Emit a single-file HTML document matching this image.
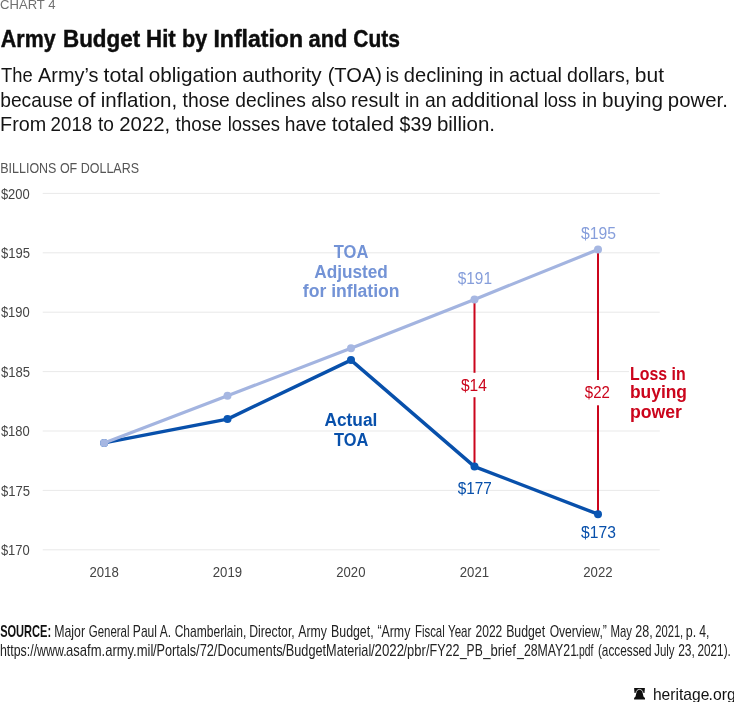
<!DOCTYPE html>
<html lang="en"><head><meta charset="utf-8"><title>Army Budget Hit by Inflation and Cuts</title>
<style>html,body{margin:0;padding:0;background:#fff}svg{display:block}text{font-family:"Liberation Sans",sans-serif}</style></head><body>
<svg width="734" height="702" viewBox="0 0 734 702">
<rect width="734" height="702" fill="#fff"/>
<rect x="42.7" y="192.90" width="617.1" height="1" fill="#e9e9e9"/>
<rect x="42.7" y="252.30" width="617.1" height="1" fill="#e9e9e9"/>
<rect x="42.7" y="311.70" width="617.1" height="1" fill="#e9e9e9"/>
<rect x="42.7" y="371.10" width="617.1" height="1" fill="#e9e9e9"/>
<rect x="42.7" y="430.50" width="617.1" height="1" fill="#e9e9e9"/>
<rect x="42.7" y="489.90" width="617.1" height="1" fill="#e9e9e9"/>
<rect x="42.7" y="549.30" width="617.1" height="1" fill="#e9e9e9"/>
<rect x="473.5" y="299.4" width="2" height="167.3" fill="#cb051c"/>
<rect x="597" y="249.7" width="2" height="264.4" fill="#cb051c"/>
<rect x="458" y="372.8" width="32" height="24.4" fill="#fff"/>
<rect x="582" y="380" width="30" height="25.3" fill="#fff"/>
<rect x="629" y="366" width="31" height="10" fill="#fff"/>
<polyline points="104.1,442.9 227.5,419.1 351,360.1 474.5,466.6 598,514.2" fill="none" stroke="#0850ab" stroke-width="3.4" stroke-linejoin="round"/>
<circle cx="104.1" cy="442.9" r="4" fill="#0a56b3"/>
<circle cx="227.5" cy="419.1" r="4" fill="#0a56b3"/>
<circle cx="351" cy="360.1" r="4" fill="#0a56b3"/>
<circle cx="474.5" cy="466.6" r="4" fill="#0a56b3"/>
<circle cx="598" cy="514.2" r="4" fill="#0a56b3"/>
<polyline points="104.1,442.9 227.5,395.8 351,348.3 474.5,299.4 598,249.6" fill="none" stroke="#a3b4e0" stroke-width="3.2" stroke-linejoin="round"/>
<circle cx="104.1" cy="442.9" r="4" fill="#a6b7e2"/>
<circle cx="227.5" cy="395.8" r="4" fill="#a6b7e2"/>
<circle cx="351" cy="348.3" r="4" fill="#a6b7e2"/>
<circle cx="474.5" cy="299.4" r="4" fill="#a6b7e2"/>
<circle cx="598" cy="249.6" r="4" fill="#a6b7e2"/>
<text x="0.09" y="8.6" font-size="12.8" fill="#707070" textLength="55.43" lengthAdjust="spacingAndGlyphs">CHART 4</text>
<text y="46.6" font-size="24.3" fill="#0d0d0d" font-weight="bold" stroke="#0d0d0d" stroke-width="0.45"><tspan x="0.87" textLength="54.80" lengthAdjust="spacingAndGlyphs">Army</tspan> <tspan x="63.00" textLength="77.11" lengthAdjust="spacingAndGlyphs">Budget</tspan> <tspan x="146.11" textLength="29.60" lengthAdjust="spacingAndGlyphs">Hit</tspan> <tspan x="181.95" textLength="25.21" lengthAdjust="spacingAndGlyphs">by</tspan> <tspan x="213.46" textLength="89.55" lengthAdjust="spacingAndGlyphs">Inflation</tspan> <tspan x="308.46" textLength="38.94" lengthAdjust="spacingAndGlyphs">and</tspan> <tspan x="353.34" textLength="46.61" lengthAdjust="spacingAndGlyphs">Cuts</tspan></text>
<text y="82.0" font-size="20.2" fill="#141414"><tspan x="1.11" textLength="31.63" lengthAdjust="spacingAndGlyphs">The</tspan> <tspan x="38.10" textLength="60.32" lengthAdjust="spacingAndGlyphs">Army’s</tspan> <tspan x="103.60" textLength="40.31" lengthAdjust="spacingAndGlyphs">total</tspan> <tspan x="148.75" textLength="88.51" lengthAdjust="spacingAndGlyphs">obligation</tspan> <tspan x="242.25" textLength="79.35" lengthAdjust="spacingAndGlyphs">authority</tspan> <tspan x="327.66" textLength="54.38" lengthAdjust="spacingAndGlyphs">(TOA)</tspan> <tspan x="385.66" textLength="13.22" lengthAdjust="spacingAndGlyphs">is</tspan> <tspan x="403.87" textLength="79.46" lengthAdjust="spacingAndGlyphs">declining</tspan> <tspan x="488.69" textLength="15.10" lengthAdjust="spacingAndGlyphs">in</tspan> <tspan x="508.88" textLength="53.03" lengthAdjust="spacingAndGlyphs">actual</tspan> <tspan x="567.09" textLength="63.18" lengthAdjust="spacingAndGlyphs">dollars,</tspan> <tspan x="634.79" textLength="29.24" lengthAdjust="spacingAndGlyphs">but</tspan></text>
<text y="106.6" font-size="20.2" fill="#141414"><tspan x="0.20" textLength="72.78" lengthAdjust="spacingAndGlyphs">because</tspan> <tspan x="77.63" textLength="17.90" lengthAdjust="spacingAndGlyphs">of</tspan> <tspan x="100.82" textLength="76.31" lengthAdjust="spacingAndGlyphs">inflation,</tspan> <tspan x="182.60" textLength="47.28" lengthAdjust="spacingAndGlyphs">those</tspan> <tspan x="235.30" textLength="70.60" lengthAdjust="spacingAndGlyphs">declines</tspan> <tspan x="311.20" textLength="35.18" lengthAdjust="spacingAndGlyphs">also</tspan> <tspan x="351.07" textLength="48.06" lengthAdjust="spacingAndGlyphs">result</tspan> <tspan x="404.93" textLength="14.51" lengthAdjust="spacingAndGlyphs">in</tspan> <tspan x="425.00" textLength="21.49" lengthAdjust="spacingAndGlyphs">an</tspan> <tspan x="451.36" textLength="87.49" lengthAdjust="spacingAndGlyphs">additional</tspan> <tspan x="543.75" textLength="32.73" lengthAdjust="spacingAndGlyphs">loss</tspan> <tspan x="581.98" textLength="15.22" lengthAdjust="spacingAndGlyphs">in</tspan> <tspan x="602.00" textLength="61.06" lengthAdjust="spacingAndGlyphs">buying</tspan> <tspan x="667.83" textLength="60.01" lengthAdjust="spacingAndGlyphs">power.</tspan></text>
<text y="130.8" font-size="20.2" fill="#141414"><tspan x="0.05" textLength="46.17" lengthAdjust="spacingAndGlyphs">From</tspan> <tspan x="50.62" textLength="41.64" lengthAdjust="spacingAndGlyphs">2018</tspan> <tspan x="98.00" textLength="15.98" lengthAdjust="spacingAndGlyphs">to</tspan> <tspan x="119.25" textLength="50.98" lengthAdjust="spacingAndGlyphs">2022,</tspan> <tspan x="175.50" textLength="46.27" lengthAdjust="spacingAndGlyphs">those</tspan> <tspan x="227.75" textLength="52.33" lengthAdjust="spacingAndGlyphs">losses</tspan> <tspan x="284.70" textLength="41.68" lengthAdjust="spacingAndGlyphs">have</tspan> <tspan x="331.70" textLength="62.37" lengthAdjust="spacingAndGlyphs">totaled</tspan> <tspan x="399.60" textLength="32.49" lengthAdjust="spacingAndGlyphs">$39</tspan> <tspan x="436.92" textLength="58.13" lengthAdjust="spacingAndGlyphs">billion.</tspan></text>
<text x="0.22" y="172.7" font-size="14.3" fill="#555" textLength="138.80" lengthAdjust="spacingAndGlyphs">BILLIONS OF DOLLARS</text>
<text x="0.90" y="198.6" font-size="14" fill="#444" textLength="28.82" lengthAdjust="spacingAndGlyphs">$200</text>
<text x="0.90" y="258.0" font-size="14" fill="#444" textLength="29.03" lengthAdjust="spacingAndGlyphs">$195</text>
<text x="0.90" y="317.4" font-size="14" fill="#444" textLength="28.82" lengthAdjust="spacingAndGlyphs">$190</text>
<text x="0.90" y="376.8" font-size="14" fill="#444" textLength="29.03" lengthAdjust="spacingAndGlyphs">$185</text>
<text x="0.90" y="436.2" font-size="14" fill="#444" textLength="28.82" lengthAdjust="spacingAndGlyphs">$180</text>
<text x="0.90" y="495.6" font-size="14" fill="#444" textLength="29.03" lengthAdjust="spacingAndGlyphs">$175</text>
<text x="0.90" y="555.0" font-size="14" fill="#444" textLength="28.82" lengthAdjust="spacingAndGlyphs">$170</text>
<text x="89.38" y="576.9" font-size="14.7" fill="#444" textLength="29.35" lengthAdjust="spacingAndGlyphs">2018</text>
<text x="212.78" y="576.9" font-size="14.7" fill="#444" textLength="29.35" lengthAdjust="spacingAndGlyphs">2019</text>
<text x="336.29" y="576.9" font-size="14.7" fill="#444" textLength="29.14" lengthAdjust="spacingAndGlyphs">2020</text>
<text x="459.78" y="576.9" font-size="14.7" fill="#444" textLength="29.35" lengthAdjust="spacingAndGlyphs">2021</text>
<text x="583.28" y="576.9" font-size="14.7" fill="#444" textLength="29.35" lengthAdjust="spacingAndGlyphs">2022</text>
<text x="333.80" y="258.0" font-size="18.0" fill="#7393d6" font-weight="bold" textLength="34.61" lengthAdjust="spacingAndGlyphs">TOA</text>
<text x="314.23" y="277.9" font-size="18.0" fill="#7393d6" font-weight="bold" textLength="73.67" lengthAdjust="spacingAndGlyphs">Adjusted</text>
<text x="302.83" y="296.7" font-size="18.0" fill="#7393d6" font-weight="bold" textLength="96.73" lengthAdjust="spacingAndGlyphs">for inflation</text>
<text x="324.53" y="426.1" font-size="18.0" fill="#0850ab" font-weight="bold" textLength="52.79" lengthAdjust="spacingAndGlyphs">Actual</text>
<text x="334.10" y="445.8" font-size="18.0" fill="#0850ab" font-weight="bold" textLength="34.31" lengthAdjust="spacingAndGlyphs">TOA</text>
<text x="457.70" y="283.8" font-size="16.6" fill="#869edb" textLength="34.33" lengthAdjust="spacingAndGlyphs">$191</text>
<text x="580.90" y="239.3" font-size="16.6" fill="#869edb" textLength="35.04" lengthAdjust="spacingAndGlyphs">$195</text>
<text x="457.70" y="493.6" font-size="16.6" fill="#0850ab" textLength="34.12" lengthAdjust="spacingAndGlyphs">$177</text>
<text x="581.10" y="538.0" font-size="16.6" fill="#0850ab" textLength="34.73" lengthAdjust="spacingAndGlyphs">$173</text>
<text x="460.90" y="390.5" font-size="16.6" fill="#cb051c" textLength="25.89" lengthAdjust="spacingAndGlyphs">$14</text>
<text x="584.80" y="397.7" font-size="16.6" fill="#cb051c" textLength="25.01" lengthAdjust="spacingAndGlyphs">$22</text>
<text x="630.01" y="379.7" font-size="18.0" fill="#cb051c" font-weight="bold" textLength="55.66" lengthAdjust="spacingAndGlyphs">Loss in</text>
<text x="629.91" y="398.2" font-size="18.0" fill="#cb051c" font-weight="bold" textLength="57.10" lengthAdjust="spacingAndGlyphs">buying</text>
<text x="629.90" y="417.6" font-size="18.0" fill="#cb051c" font-weight="bold" textLength="52.06" lengthAdjust="spacingAndGlyphs">power</text>
<text x="0.13" y="636.9" font-size="15.7" fill="#111" font-weight="bold" textLength="50.99" lengthAdjust="spacingAndGlyphs">SOURCE:</text>
<text y="636.9" font-size="15.7" fill="#222"><tspan x="54.24" textLength="30.82" lengthAdjust="spacingAndGlyphs">Major</tspan> <tspan x="88.76" textLength="40.79" lengthAdjust="spacingAndGlyphs">General</tspan> <tspan x="132.86" textLength="24.14" lengthAdjust="spacingAndGlyphs">Paul</tspan> <tspan x="159.80" textLength="11.28" lengthAdjust="spacingAndGlyphs">A.</tspan> <tspan x="174.64" textLength="71.67" lengthAdjust="spacingAndGlyphs">Chamberlain,</tspan> <tspan x="249.14" textLength="45.57" lengthAdjust="spacingAndGlyphs">Director,</tspan> <tspan x="298.30" textLength="28.60" lengthAdjust="spacingAndGlyphs">Army</tspan> <tspan x="331.03" textLength="42.59" lengthAdjust="spacingAndGlyphs">Budget,</tspan> <tspan x="377.41" textLength="32.89" lengthAdjust="spacingAndGlyphs">“Army</tspan> <tspan x="414.91" textLength="29.85" lengthAdjust="spacingAndGlyphs">Fiscal</tspan> <tspan x="448.02" textLength="23.34" lengthAdjust="spacingAndGlyphs">Year</tspan> <tspan x="475.54" textLength="26.75" lengthAdjust="spacingAndGlyphs">2022</tspan> <tspan x="506.14" textLength="38.92" lengthAdjust="spacingAndGlyphs">Budget</tspan> <tspan x="549.63" textLength="57.21" lengthAdjust="spacingAndGlyphs">Overview,”</tspan> <tspan x="610.41" textLength="21.59" lengthAdjust="spacingAndGlyphs">May</tspan> <tspan x="635.21" textLength="17.42" lengthAdjust="spacingAndGlyphs">28,</tspan> <tspan x="655.28" textLength="27.96" lengthAdjust="spacingAndGlyphs">2021,</tspan> <tspan x="685.72" textLength="10.41" lengthAdjust="spacingAndGlyphs">p.</tspan> <tspan x="699.21" textLength="10.21" lengthAdjust="spacingAndGlyphs">4,</tspan></text>
<text y="655.8" font-size="15.7" fill="#222"><tspan x="-0.07" textLength="66.69" lengthAdjust="spacingAndGlyphs">https://www.</tspan><tspan x="66.09" textLength="87.26" lengthAdjust="spacingAndGlyphs">asafm.army.mil</tspan><tspan x="153.00" textLength="43.10" lengthAdjust="spacingAndGlyphs">/Portals</tspan><tspan x="196.10" textLength="17.82" lengthAdjust="spacingAndGlyphs">/72</tspan><tspan x="213.80" textLength="68.90" lengthAdjust="spacingAndGlyphs">/Documents</tspan><tspan x="282.30" textLength="88.94" lengthAdjust="spacingAndGlyphs">/BudgetMaterial</tspan><tspan x="370.90" textLength="33.14" lengthAdjust="spacingAndGlyphs">/2022</tspan><tspan x="403.50" textLength="22.26" lengthAdjust="spacingAndGlyphs">/pbr</tspan><tspan x="426.00" textLength="33.51" lengthAdjust="spacingAndGlyphs">/FY22</tspan><tspan x="459.89" textLength="22.82" lengthAdjust="spacingAndGlyphs">_PB</tspan><tspan x="483.20" textLength="32.65" lengthAdjust="spacingAndGlyphs">_brief</tspan><tspan x="517.09" textLength="59.91" lengthAdjust="spacingAndGlyphs">_28MAY21</tspan><tspan x="576.20" textLength="17.17" lengthAdjust="spacingAndGlyphs">.pdf</tspan> <tspan x="597.95" textLength="53.71" lengthAdjust="spacingAndGlyphs">(accessed</tspan> <tspan x="654.22" textLength="20.38" lengthAdjust="spacingAndGlyphs">July</tspan> <tspan x="678.14" textLength="16.66" lengthAdjust="spacingAndGlyphs">23,</tspan> <tspan x="697.45" textLength="33.42" lengthAdjust="spacingAndGlyphs">2021).</tspan></text>
<text y="699.5" font-size="17.0" fill="#111"><tspan x="652.92" textLength="56.41" lengthAdjust="spacingAndGlyphs">heritage</tspan><tspan x="708.57" textLength="27.11" lengthAdjust="spacingAndGlyphs">.org</tspan></text>
<g><path fill="#0d0d0d" d="M634.1 687.9H644.9L644.5 692.9H634.5Z"/><path fill="#0d0d0d" d="M639.5 689.9C641.2 689.9 642.4 691 642.7 693L643.3 695.8C643.5 696.8 644 697.5 645 697.8V699.6H634.1V697.8C635 697.5 635.5 696.8 635.7 695.8L636.3 693C636.6 691 637.8 689.9 639.5 689.9Z"/><path fill="none" stroke="#fff" stroke-width="0.8" d="M635.9 693.2C636.2 690.7 637.6 689.4 639.5 689.4C641.4 689.4 642.8 690.7 643.1 693.2"/></g>
</svg></body></html>
